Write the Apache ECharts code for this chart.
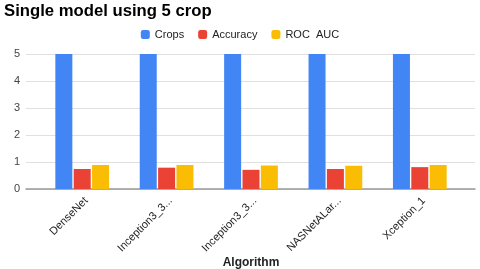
<!DOCTYPE html>
<html><head><meta charset="utf-8">
<script src="https://cdn.jsdelivr.net/npm/echarts@6/dist/echarts.min.js"></script>
<style>html,body{margin:0;padding:0;background:#fff}#c{width:480px;height:269px}</style>
</head><body><div id="c"></div>
<script>
var categories = ["DenseNet", "Inception3_3...", "Inception3_3...", "NASNetALar...", "Xception_1"];
var crops = [5, 5, 5, 5, 5];
var accuracy = [0.74, 0.79, 0.71, 0.74, 0.81];
var rocAuc = [0.89, 0.89, 0.87, 0.86, 0.89];
var yTicks = [0, 1, 2, 3, 4, 5];

var FONT = "Liberation Sans, Arial, sans-serif";
var chart = echarts.init(document.getElementById('c'), null, {renderer: 'canvas'});
chart.setOption({
  animation: false,
  backgroundColor: '#fff',
  title: {
    text: 'Single model using 5 crop', left: 4, top: 3, padding: 0,
    textStyle: {fontFamily: FONT, fontSize: 16.7, fontWeight: 'bold', color: '#000'}
  },
  legend: {
    top: 24, left: 'center', itemWidth: 9, itemHeight: 9, itemGap: 14, itemTextGap: 6,
    icon: 'roundRect',
    textStyle: {fontFamily: FONT, fontSize: 11, color: '#222'},
    data: ['Crops', 'Accuracy', 'ROC  AUC']
  },
  grid: [
    {left: 40, right: 18, top: 54, bottom: 80, containLabel: false, outerBoundsMode: 'none'},
    {left: 26, right: 5, top: 54, bottom: 80, containLabel: false, outerBoundsMode: 'none'},
    {left: 44, right: 14, top: 54, bottom: 80, containLabel: false, outerBoundsMode: 'none'}
  ],
  xAxis: [
    {
      type: 'category', gridIndex: 0, data: categories,
      axisLine: {show: false}, axisTick: {show: false}, axisLabel: {show: false},
      name: 'Algorithm', nameLocation: 'middle', nameGap: 68,
      nameTextStyle: {fontFamily: FONT, fontSize: 12, fontWeight: 'bold', color: '#222'}
    },
    {
      type: 'value', gridIndex: 1, min: 0, max: 1,
      axisLine: {show: true, lineStyle: {color: '#999', width: 1.5}},
      axisTick: {show: false}, axisLabel: {show: false}, splitLine: {show: false}
    },
    {
      type: 'category', gridIndex: 2, data: categories,
      axisLine: {show: false}, axisTick: {show: false},
      axisLabel: {rotate: 45, fontFamily: FONT, fontSize: 11, color: '#222', margin: 10, interval: 0}
    }
  ],
  yAxis: [
    {type: 'value', gridIndex: 0, min: 0, max: 5, interval: 1, show: false},
    {
      type: 'value', gridIndex: 1, min: yTicks[0], max: yTicks[yTicks.length - 1], interval: 1,
      axisLine: {show: false}, axisTick: {show: false},
      axisLabel: {fontFamily: FONT, fontSize: 11, color: '#444', margin: 6},
      splitLine: {lineStyle: {color: '#e0e0e0', width: 1}}
    },
    {type: 'value', gridIndex: 2, min: 0, max: 5, interval: 1, show: false}
  ],
  series: [
    {name: 'Crops', type: 'bar', xAxisIndex: 0, yAxisIndex: 0, data: crops, barWidth: 17, barGap: '8%',
     itemStyle: {color: '#4285F4'}},
    {name: 'Accuracy', type: 'bar', xAxisIndex: 0, yAxisIndex: 0, data: accuracy, barWidth: 17, barGap: '8%',
     itemStyle: {color: '#EA4335'}},
    {name: 'ROC  AUC', type: 'bar', xAxisIndex: 0, yAxisIndex: 0, data: rocAuc, barWidth: 17, barGap: '8%',
     itemStyle: {color: '#FBBC04'}}
  ]
});
</script></body></html>
